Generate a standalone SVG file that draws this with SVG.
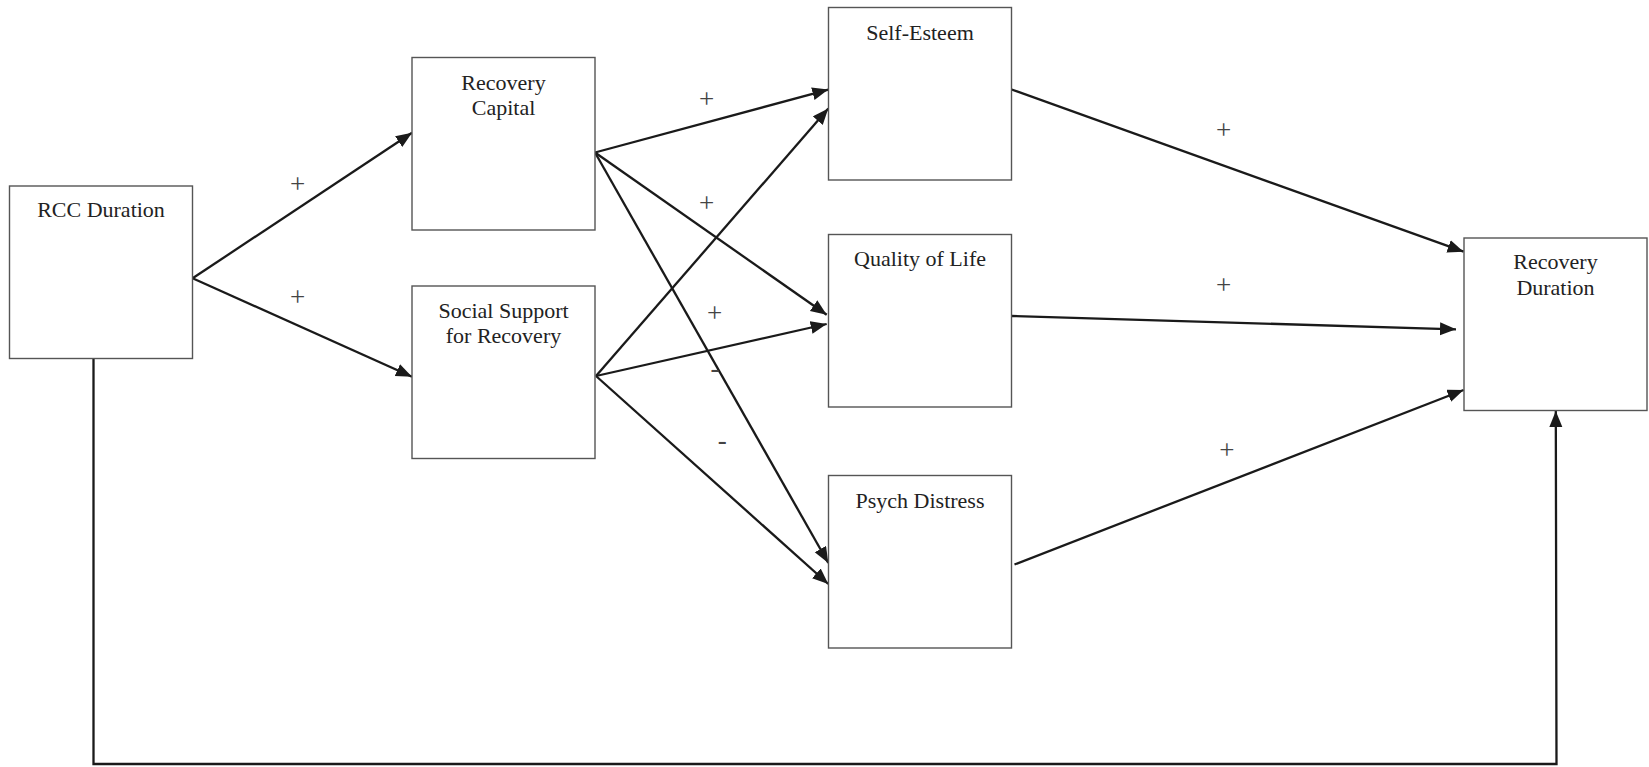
<svg xmlns="http://www.w3.org/2000/svg" width="1649" height="767" viewBox="0 0 1649 767">
<style>
.box{fill:#fff;stroke:#555;stroke-width:1.4}
.lbl{font-family:"Liberation Serif","Times New Roman",serif;font-size:22px;fill:#222;text-anchor:middle}
.sign{font-family:"Liberation Serif","Times New Roman",serif;font-size:27px;fill:#444;text-anchor:middle}
.con{fill:none;stroke:#1a1a1a;stroke-width:2.3}
</style>
<defs>
<marker id="arr" markerUnits="userSpaceOnUse" markerWidth="17" markerHeight="15" refX="16" refY="6.5" orient="auto">
<path d="M0,0 L16,6.5 L0,13 z" fill="#1a1a1a"/>
</marker>
</defs>
<rect width="1649" height="767" fill="#fff"/>
<g id="connectors">
<line class="con" x1="192.6" y1="278.3" x2="412" y2="132.7" marker-end="url(#arr)"/>
<line class="con" x1="192.6" y1="278.3" x2="412" y2="376.7" marker-end="url(#arr)"/>
<line class="con" x1="595" y1="152.5" x2="828.3" y2="89.6" marker-end="url(#arr)"/>
<line class="con" x1="595" y1="152.5" x2="826.7" y2="314.8" marker-end="url(#arr)"/>
<line class="con" x1="595" y1="152.5" x2="828.3" y2="563" marker-end="url(#arr)"/>
<line class="con" x1="596" y1="376" x2="828.3" y2="108.6" marker-end="url(#arr)"/>
<line class="con" x1="596" y1="376" x2="826.7" y2="324" marker-end="url(#arr)"/>
<line class="con" x1="596" y1="376" x2="828.3" y2="584" marker-end="url(#arr)"/>
<line class="con" x1="1011.6" y1="89.5" x2="1463.6" y2="251.7" marker-end="url(#arr)"/>
<line class="con" x1="1011.6" y1="316" x2="1456" y2="329.3" marker-end="url(#arr)"/>
<line class="con" x1="1014.5" y1="564.5" x2="1463.6" y2="390" marker-end="url(#arr)"/>
<polyline class="con" points="93.5,358.5 93.5,764 1556.5,764 1555.8,411" stroke-width="2.5" marker-end="url(#arr)"/>
<text class="sign" x="297.7" y="192.5">+</text>
<text class="sign" x="297.7" y="305.8">+</text>
<text class="sign" x="706.7" y="107.8">+</text>
<text class="sign" x="706.7" y="211.5">+</text>
<text class="sign" x="714.5" y="321.8">+</text>
<text class="sign" x="715" y="376.5">-</text>
<text class="sign" x="722.3" y="449">-</text>
<text class="sign" x="1223.5" y="138.5">+</text>
<text class="sign" x="1223.5" y="293.5">+</text>
<text class="sign" x="1226.8" y="459">+</text>
</g>
<g id="rcc-duration">
<rect class="box" x="9.5" y="186" width="183" height="172.5"/>
<text class="lbl" x="101" y="216.7">RCC Duration</text>
</g>
<g id="recovery-capital">
<rect class="box" x="412" y="57.5" width="183" height="172.5"/>
<text class="lbl" x="503.5" y="90">Recovery</text>
<text class="lbl" x="503.5" y="115">Capital</text>
</g>
<g id="social-support">
<rect class="box" x="412" y="286" width="183" height="172.5"/>
<text class="lbl" x="503.5" y="318.3">Social Support</text>
<text class="lbl" x="503.5" y="342.7">for Recovery</text>
</g>
<g id="self-esteem">
<rect class="box" x="828.5" y="7.5" width="183" height="172.5"/>
<text class="lbl" x="920" y="40">Self-Esteem</text>
</g>
<g id="quality-of-life">
<rect class="box" x="828.5" y="234.5" width="183" height="172.5"/>
<text class="lbl" x="920" y="266">Quality of Life</text>
</g>
<g id="psych-distress">
<rect class="box" x="828.5" y="475.5" width="183" height="172.5"/>
<text class="lbl" x="920" y="508">Psych Distress</text>
</g>
<g id="recovery-duration">
<rect class="box" x="1464" y="238" width="183" height="172.5"/>
<text class="lbl" x="1555.5" y="269.3">Recovery</text>
<text class="lbl" x="1555.5" y="295">Duration</text>
</g>
</svg>
